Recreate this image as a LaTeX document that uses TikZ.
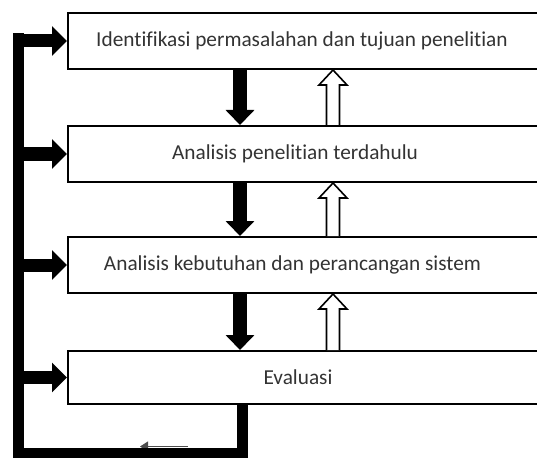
\documentclass[tikz,border=0pt]{standalone}
\usepackage{fontspec}
\setmainfont[Ligatures=NoCommon]{Carlito}
\usetikzlibrary{arrows.meta, positioning, calc}

\newcommand{\hollowup}[2]{% #1 base, #2 tip
  \draw[upblock] ($(#1)+(-6.5,0)$) -- ($(#2)+(-6.5,15)$) -- ($(#2)+(-14,15)$) -- (#2)
    -- ($(#2)+(14,15)$) -- ($(#2)+(6.5,15)$) -- ($(#1)+(6.5,0)$);}

\begin{document}
\begin{tikzpicture}[
		x=1pt, y=-1pt,
		stage/.style={draw, line width=2pt, minimum width=480pt, minimum height=56pt, inner sep=0pt},
		stagetext/.style={text=black!80, font=\fontsize{21.3}{24}\selectfont},
		downarrow/.style={line width=14pt, -{Triangle[length=15pt, width=28pt]}},
		sidearrow/.style={line width=13pt, -{Triangle[length=15pt, width=29pt]}},
		loopbar/.style={line width=11pt, line join=miter},
		upblock/.style={draw, line width=1.6pt, fill=white, line join=miter},
		backarrow/.style={line width=1pt, draw=black!70, -{Triangle[length=8pt, width=10pt]}}
	]
		\useasboundingbox (0,0) rectangle (537,457);
		\coordinate (barx) at (18,0);
		\coordinate (dnx) at (240,0);
		\coordinate (upx) at (333,0);
		\coordinate (loopx) at (242,0);
		\coordinate (bartop) at (0,33);
		\coordinate (loopy) at (0,453.5);
		\coordinate (backstart) at (188,446.5);
		\coordinate (backend) at (140,446.5);

		\node[stage, label={[stagetext, xshift=-6pt]center:Identifikasi permasalahan dan tujuan penelitian}] (ident) at (308,41) {};
		\node[stage, below=55pt of ident, label={[stagetext, xshift=-13pt]center:Analisis penelitian terdahulu}] (prior) {};
		\node[stage, below=53pt of prior, label={[stagetext, xshift=-15.5pt]center:Analisis kebutuhan dan perancangan sistem}] (needs) {};
		\node[stage, below=56pt of needs, minimum height=53pt, label={[stagetext, xshift=-10pt]center:Evaluasi}] (eval) {};

		\foreach \a/\b [count=\i] in {ident/prior,prior/needs,needs/eval} {
			\draw[downarrow] (\a.south -| dnx) -- (\b.north -| dnx);
			\coordinate (tip\i) at (\a.south -| upx);
			\coordinate (base\i) at (\b.north -| upx);
			\hollowup{base\i}{tip\i}
		}
		\foreach \s in {ident,prior,needs,eval}
			\draw[sidearrow] (\s.west -| barx) -- (\s.west);

		% loop back to the start
		\draw[backarrow] (backstart) -- (backend);
		\draw[loopbar] (eval.south -| loopx) -- (loopx |- loopy) -- (barx |- loopy) -- (barx |- bartop);
	\end{tikzpicture}
\end{document}
